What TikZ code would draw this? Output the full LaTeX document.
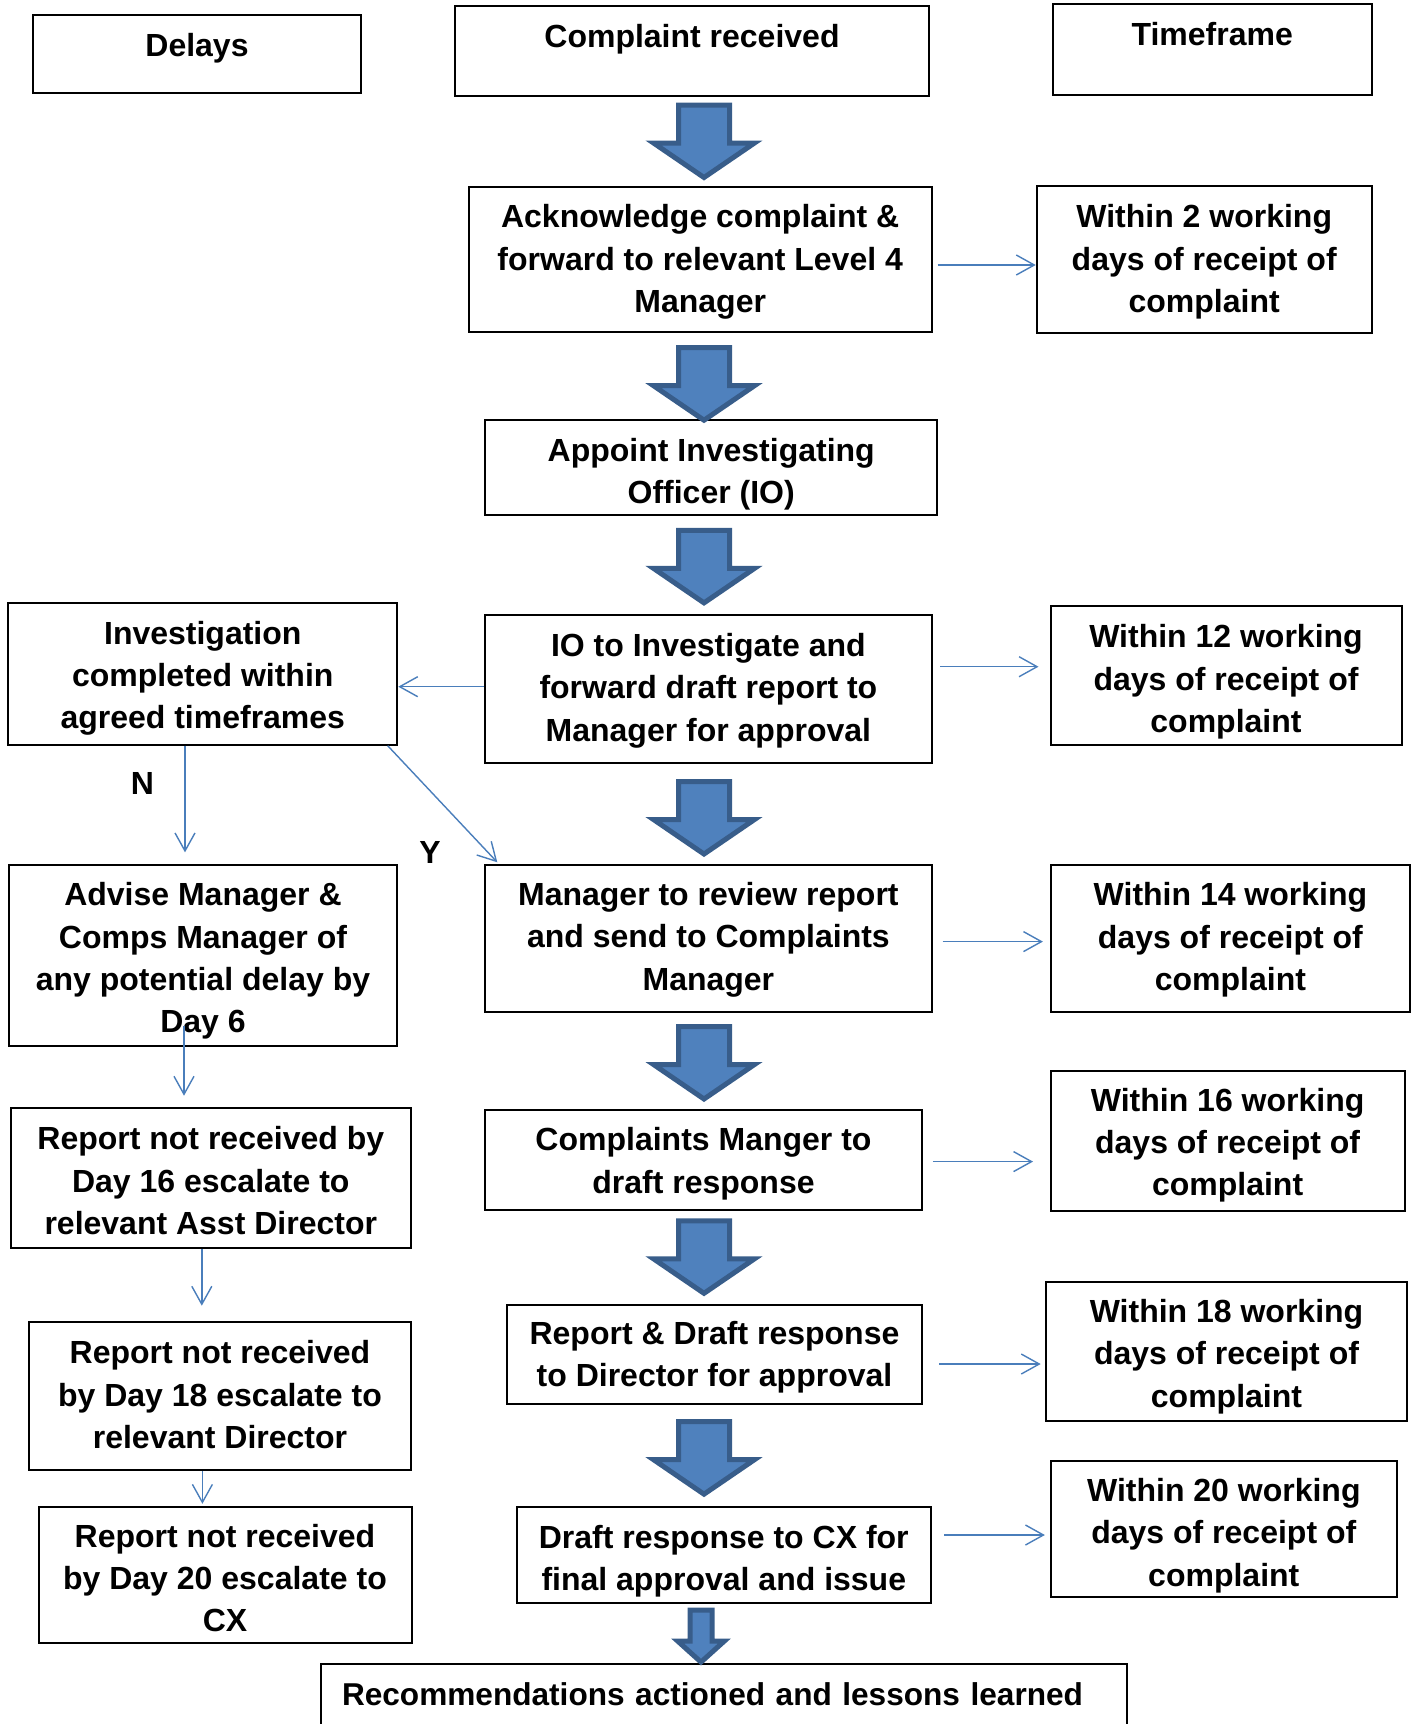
\documentclass[tikz,border=0pt]{standalone}
\usepackage{fontspec}
\setmainfont{Liberation Sans}
\usetikzlibrary{arrows.meta,calc}
\definecolor{arrowfill}{HTML}{4F81BD}
\definecolor{arrowline}{HTML}{385D8A}
\definecolor{linkblue}{HTML}{4A7EBB}
% invisible strut that pushes the first line down
\newcommand{\dropby}[1]{\rule{0pt}{#1}}
\tikzset{
  flowbox/.style={draw,line width=1pt,align=center,inner ysep=0pt,font=\fontsize{16pt}{21.2pt}\selectfont\bfseries},
  lbl/.style={font=\fontsize{16pt}{21.2pt}\selectfont\bfseries,inner sep=0pt},
  link/.style={draw=linkblue,line width=0.7pt,-{Straight Barb[length=9pt,width=10pt]}},
  blockarrow/.style={fill=arrowfill,draw=arrowline,line width=2.5pt,line join=miter},
  bigarrow/.pic={\path[blockarrow] (-25.5,-36.5) -- (25.5,-36.5) -- (25.5,1.5) -- (50.5,1.5)
    -- (0,36) -- (-50.5,1.5) -- (-25.5,1.5) -- cycle;},
  smallarrow/.pic={\path[blockarrow] (-11,-26.5) -- (11,-26.5) -- (11,4.5) -- (23.4,4.5)
    -- (0,25.6) -- (-23.4,4.5) -- (-11,4.5) -- cycle;}
}
\begin{document}
\begin{tikzpicture}[x=0.5pt,y=-0.5pt]
\useasboundingbox (0,0) rectangle (1411,1724);
\coordinate (spine) at (704,0);
% header row
\node[flowbox,minimum width=164pt,minimum height=39pt,text height=12pt,text depth=10.1pt] (delays) at (197,54.2) {Delays};
\node[flowbox,minimum width=237pt,minimum height=45pt,text height=12pt,text depth=15.2pt] (crec) at (692,51) {Complaint received};
\node[flowbox,minimum width=159.5pt,minimum height=45.5pt,text height=12pt,text depth=15.8pt] (tframe) at (1212.2,49.5) {Timeframe};
% main column
\node[flowbox,minimum width=231.5pt,minimum height=72.6pt] (ack) at (700.2,259.6) {\dropby{13.9pt}Acknowledge complaint \&\\forward to relevant Level 4\\Manager};
\node[flowbox,minimum width=226pt,minimum height=47.3pt] (appoint) at (711.2,467.5) {\dropby{18.6pt}Appoint Investigating\\Officer (IO)};
\node[flowbox,minimum width=223.3pt,minimum height=74.25pt] (io) at (708.4,689.2) {\dropby{12.8pt}IO to Investigate and\\forward draft report to\\Manager for approval};
\node[flowbox,minimum width=223.3pt,minimum height=73.7pt] (mr) at (708.4,938.3) {\dropby{12.8pt}Manager to review report\\and send to Complaints\\Manager};
\node[flowbox,minimum width=218.4pt,minimum height=50pt] (cm) at (703.5,1160) {\dropby{15.5pt}Complaints Manger to\\draft response};
\node[flowbox,minimum width=207.4pt,minimum height=49.5pt] (rd) at (714.5,1354.1) {\dropby{15pt}Report \& Draft response\\to Director for approval};
\node[flowbox,minimum width=207.2pt,minimum height=48pt] (dcx) at (723.8,1554.7) {\dropby{18.3pt}Draft response to CX for\\final approval and issue};
\node[flowbox,anchor=north,inner xsep=10.6pt,text width=381.8pt,align=left,text height=20.7pt,text depth=34pt,
  font=\fontsize{15.8pt}{21pt}\selectfont\bfseries] (rec) at (723.8,1662.7) {Recommendations actioned and lessons learned};
% timeframes
\node[flowbox,minimum width=167.5pt,minimum height=73.3pt] (w2) at (1204.2,259.3) {\dropby{14.4pt}Within 2 working\\days of receipt of\\complaint};
\node[flowbox,minimum width=175.5pt,minimum height=69.3pt] (w12) at (1226,675.4) {\dropby{18.3pt}Within 12 working\\days of receipt of\\complaint};
\node[flowbox,minimum width=179.9pt,minimum height=73.7pt] (w14) at (1230.4,938.3) {\dropby{13.3pt}Within 14 working\\days of receipt of\\complaint};
\node[flowbox,minimum width=177.1pt,minimum height=69.9pt] (w16) at (1227.6,1141.3) {\dropby{15.5pt}Within 16 working\\days of receipt of\\complaint};
\node[flowbox,minimum width=180.4pt,minimum height=69.9pt] (w18) at (1226.5,1351.4) {\dropby{16.6pt}Within 18 working\\days of receipt of\\complaint};
\node[flowbox,minimum width=172.9pt,minimum height=67.9pt] (w20) at (1223.8,1528.8) {\dropby{18.3pt}Within 20 working\\days of receipt of\\complaint};
% delays column
\node[flowbox,minimum width=194.5pt,minimum height=71pt] (inv) at (202.8,673.7) {\dropby{16.1pt}Investigation\\completed within\\agreed timeframes};
\node[flowbox,minimum width=194.2pt,minimum height=90.75pt] (adv) at (203,955.4) {\dropby{17.2pt}Advise Manager \&\\Comps Manager of\\any potential delay by\\Day 6};
\node[flowbox,minimum width=200.2pt,minimum height=70pt] (r16) at (210.8,1178.3) {\dropby{13.9pt}Report not received by\\Day 16 escalate to\\relevant Asst Director};
\node[flowbox,minimum width=191pt,minimum height=73.9pt] (r18) at (220,1396.2) {Report not received\\by Day 18 escalate to\\relevant Director\rule[-1.6pt]{0pt}{0pt}};
\node[flowbox,minimum width=186.5pt,minimum height=68.2pt] (r20) at (225,1575.2) {\dropby{14.4pt}Report not received\\by Day 20 escalate to\\CX};
% block arrows down the middle
\foreach \a/\b/\d in {crec/ack/0, ack/appoint/8, appoint/io/2, io/mr/4, mr/cm/2, cm/rd/0, rd/dcx/3}
  \pic at ([yshift=-\d*0.5pt]$(\a.south -| spine)!.5!(\b.north -| spine)$) {bigarrow};
\pic at ([xshift=-11.4pt,yshift=-1.65pt]$(dcx.south)!.5!(rec.north)$) {smallarrow};
% links to the timeframes
\foreach \a/\b/\y/\s/\e in {ack/w2/-2.7/2.5/0, io/w12/11.25/3.8/5.5, mr/w14/-1.65/4.95/3.3,
    cm/w16/-0.8/4.95/8.25, rd/w18/-4.95/8.25/2.2, dcx/w20/9.85/6.15/2.5}
  \draw[link,shorten <=\s pt,shorten >=\e pt] ([yshift=\y pt]\a.east) -- ([yshift=\y pt]\a.east -| \b.west);
% links down the delays
\draw[link] ([yshift=1.25pt]io.west) -- ([yshift=1.25pt]io.west -| inv.east);
\draw[link,shorten >=5.65pt] ([xshift=-8.9pt]inv.south) -- ([xshift=-8.9pt]inv.south |- adv.north);
\draw[link] ([xshift=-5.3pt]inv.south east) -- ([xshift=6.6pt,yshift=0.65pt]mr.north west);
\draw[link,shorten >=5.8pt] ([xshift=-9.5pt,yshift=10.5pt]adv.south) -- ([xshift=-9.5pt]adv.south |- r16.north);
\draw[link,shorten >=7.8pt] ([xshift=-4.5pt]r16.south) -- ([xshift=-4.5pt]r16.south |- r18.north);
\draw[link,shorten >=1.1pt] ([xshift=-8.8pt]r18.south) -- ([xshift=-8.8pt]r18.south |- r20.north);
\node[lbl] (nmark) at (142.5,783.3) {N};
\node[lbl] (ymark) at (430,852) {Y};
\end{tikzpicture}
\end{document}
